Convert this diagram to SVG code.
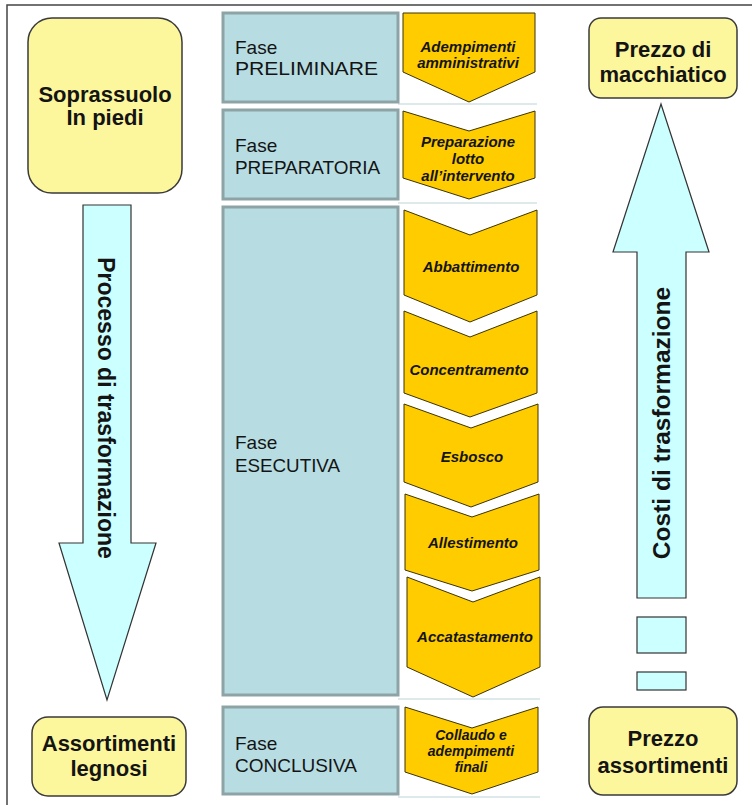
<svg xmlns="http://www.w3.org/2000/svg" width="752" height="805" viewBox="0 0 752 805">
<style>
.ybox{fill:#FCF69C;stroke:#3a3a3a;stroke-width:1.5}
.btxt{font-family:"Liberation Sans",Arial,sans-serif;font-weight:bold;font-size:22px;text-anchor:middle;fill:#141414}
.fase{fill:#B7DDE3;stroke:#8DA3A6;stroke-width:3}
.ftxt{font-family:"Liberation Sans",Arial,sans-serif;font-size:19px;fill:#141414}
.chev{fill:#FFCC00;stroke:#3d3300;stroke-width:1}
.ctxt{font-family:"Liberation Sans",Arial,sans-serif;font-weight:bold;font-style:italic;font-size:15px;text-anchor:middle;fill:#141414}
.arr{fill:#CCFFFF;stroke:#333;stroke-width:1.2}
.sep{stroke:#D2E2E5;stroke-width:1.5;fill:none}
</style>
<rect width="752" height="805" fill="#fff"/>
<path d="M7,805 V5 H752" fill="none" stroke="#444" stroke-width="1.5"/>

<g id="separators">
<line class="sep" x1="398" y1="104" x2="537" y2="104"/>
<line class="sep" x1="398" y1="203" x2="537" y2="203"/>
<line class="sep" x1="398" y1="699" x2="540" y2="699"/>
<line class="sep" x1="398" y1="797" x2="540" y2="797"/>
</g>

<g id="arrows">
<path class="arr" d="M83,205 H131 V543 H156 L107,700 L59,543 H83 Z"/>
<text class="btxt" style="font-size:23px" transform="translate(106,408) rotate(90)" dominant-baseline="central">Processo di trasformazione</text>
<path class="arr" d="M661,104 L709,252 H686 V598 H637 V252 H613 Z"/>
<text class="btxt" style="font-size:24.5px" transform="translate(661,423) rotate(-90)" dominant-baseline="central">Costi di trasformazione</text>
<rect class="arr" x="637" y="617" width="49" height="36"/>
<rect class="arr" x="637" y="672" width="49" height="18"/>
</g>

<g id="soprassuolo">
<rect class="ybox" x="28" y="18" width="154" height="175" rx="24"/>
<text class="btxt" x="105" y="102">Soprassuolo</text>
<text class="btxt" x="105" y="125">In piedi</text>
</g>
<g id="assortimenti-legnosi">
<rect class="ybox" x="32" y="717" width="154" height="79" rx="16"/>
<text class="btxt" x="109" y="751">Assortimenti</text>
<text class="btxt" x="109" y="776">legnosi</text>
</g>
<g id="prezzo-macchiatico">
<rect class="ybox" x="589" y="18" width="148" height="80" rx="12"/>
<text class="btxt" x="663" y="57">Prezzo di</text>
<text class="btxt" x="663" y="82">macchiatico</text>
</g>
<g id="prezzo-assortimenti">
<rect class="ybox" x="589" y="707" width="148" height="88" rx="14"/>
<text class="btxt" x="663" y="746">Prezzo</text>
<text class="btxt" x="663" y="773">assortimenti</text>
</g>

<g id="fase-preliminare">
<rect class="fase" x="223" y="13" width="175" height="89"/>
<text class="ftxt" x="235" y="54">Fase</text>
<text class="ftxt" x="235" y="75" textLength="143" lengthAdjust="spacingAndGlyphs">PRELIMINARE</text>
</g>
<g id="fase-preparatoria">
<rect class="fase" x="223" y="110" width="175" height="89"/>
<text class="ftxt" x="235" y="152">Fase</text>
<text class="ftxt" x="235" y="174" textLength="145" lengthAdjust="spacingAndGlyphs">PREPARATORIA</text>
</g>
<g id="fase-esecutiva">
<rect class="fase" x="223" y="207" width="175" height="488"/>
<text class="ftxt" x="235" y="449">Fase</text>
<text class="ftxt" x="235" y="472" textLength="105" lengthAdjust="spacingAndGlyphs">ESECUTIVA</text>
</g>
<g id="fase-conclusiva">
<rect class="fase" x="223" y="707" width="175" height="87"/>
<text class="ftxt" x="235" y="750">Fase</text>
<text class="ftxt" x="235" y="772" textLength="122" lengthAdjust="spacingAndGlyphs">CONCLUSIVA</text>
</g>

<g id="adempimenti-amministrativi">
<path class="chev" d="M403,13 H535 V72 L469,102 L403,72 Z"/>
<text class="ctxt" x="468" y="52">Adempimenti</text>
<text class="ctxt" x="468" y="68">amministrativi</text>
</g>
<g id="preparazione-lotto">
<path class="chev" d="M403,111 L469,131 L535,111 V178 L469,199 L403,178 Z"/>
<text class="ctxt" x="468" y="147">Preparazione</text>
<text class="ctxt" x="468" y="164">lotto</text>
<text class="ctxt" x="468" y="181">all’intervento</text>
</g>
<g id="abbattimento">
<path class="chev" d="M404,210 L470,235 L537,210 V295 L470,322 L404,295 Z"/>
<text class="ctxt" x="471" y="272">Abbattimento</text>
</g>
<g id="concentramento">
<path class="chev" d="M404,311 L470,337 L537,311 V393 L470,417 L404,393 Z"/>
<text class="ctxt" x="469" y="375">Concentramento</text>
</g>
<g id="esbosco">
<path class="chev" d="M404,404 L471,428 L538,404 V482 L471,507 L404,482 Z"/>
<text class="ctxt" x="472" y="462">Esbosco</text>
</g>
<g id="allestimento">
<path class="chev" d="M405,494 L472,517 L539,494 V570 L472,591 L405,570 Z"/>
<text class="ctxt" x="473" y="548">Allestimento</text>
</g>
<g id="accatastamento">
<path class="chev" d="M407,577 L473,602 L540,577 V667 L473,697 L407,667 Z"/>
<text class="ctxt" x="475" y="642">Accatastamento</text>
</g>
<g id="collaudo">
<path class="chev" d="M405,707 L472,728 L538,707 V772 L472,794 L405,772 Z"/>
<text class="ctxt" style="font-size:14px" x="471" y="740">Collaudo e</text>
<text class="ctxt" style="font-size:14px" x="471" y="756">adempimenti</text>
<text class="ctxt" style="font-size:14px" x="471" y="772">finali</text>
</g>
</svg>
